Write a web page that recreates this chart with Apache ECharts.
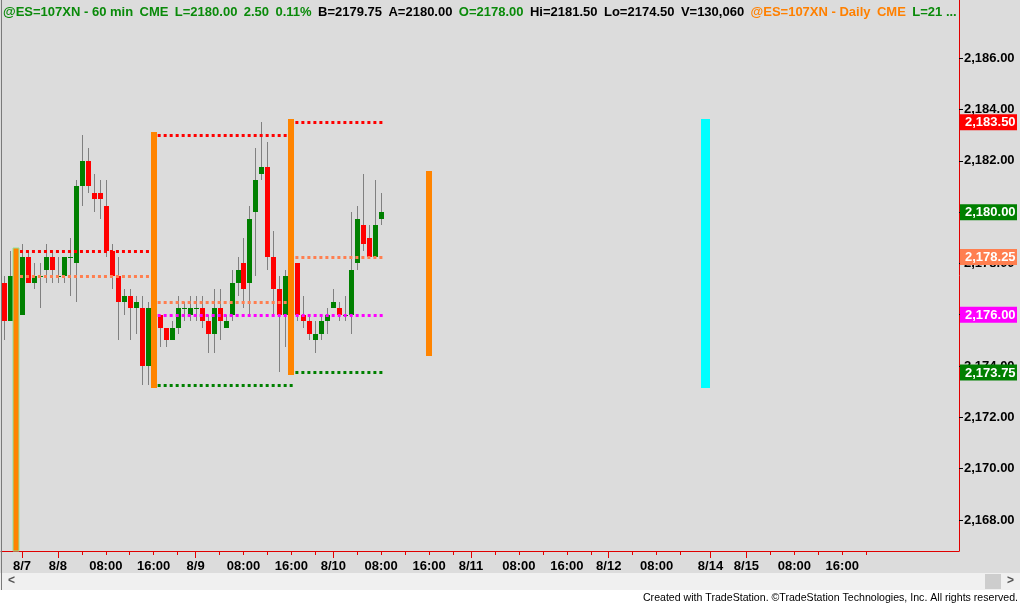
<!DOCTYPE html>
<html><head><meta charset="utf-8">
<script src="https://cdn.jsdelivr.net/npm/echarts@6/dist/echarts.min.js"></script>
<style>html,body{margin:0;padding:0;background:#dcdcdc;}#c{width:1020px;height:605px;}</style>
</head><body><div id="c"></div>
<script>
// ---------- DATA ----------
const sessionPairs = [['8/7','8/8'],['8/8','8/9'],['8/9','8/10'],['8/10','8/11'],['8/11','8/12'],['8/14','8/15'],['8/15','8/16']];
const preBars = ['8/5 14:00','8/5 15:00','8/5 16:00'];

const opens  = [2177.25,2175.75,2177.5,2176.0,2178.25,2177.25,2177.5,2177.75,2178.25,2177.5,2177.5,2178.25,2178.0,2181.0,2182.0,2180.75,2180.75,2180.25,2178.5,2177.5,2176.5,2176.75,2176.25,2176.25,2174.0,2176.25,2176.0,2175.5,2175.0,2175.5,2176.25,2176.0,2176.25,2176.25,2175.75,2175.25,2176.25,2175.5,2176.0,2177.25,2178.0,2177.25,2180.0,2181.5,2181.75,2178.25,2177.0,2176.0,2177.5,2178.0,2176.0,2175.75,2175.0,2175.25,2175.75,2176.25,2176.25,2176.0,2176.0,2178.0,2179.5,2179.0,2178.25,2179.75];
const highs  = [2177.5,2178.5,2178.5,2178.75,2178.5,2178.0,2178.0,2178.75,2178.5,2178.25,2178.25,2179.0,2181.25,2183.0,2182.5,2181.5,2181.25,2181.25,2178.75,2178.25,2177.0,2177.0,2176.75,2176.75,2176.5,2176.75,2176.0,2175.5,2175.75,2176.75,2176.5,2176.75,2176.75,2176.75,2176.0,2177.0,2177.0,2176.0,2177.75,2178.25,2179.0,2180.25,2182.5,2183.5,2182.75,2179.25,2177.5,2177.75,2178.5,2178.0,2176.75,2176.0,2175.75,2176.0,2176.25,2177.0,2176.5,2176.75,2180.0,2180.25,2181.5,2179.5,2181.25,2180.75];
const lows   = [2175.0,2175.75,2177.25,2176.0,2177.25,2177.0,2176.25,2177.25,2177.25,2177.25,2177.25,2176.75,2176.5,2180.25,2180.75,2180.0,2179.75,2178.25,2177.0,2175.0,2176.0,2175.0,2175.25,2173.25,2173.25,2175.75,2174.75,2174.75,2175.0,2175.25,2175.75,2175.75,2175.75,2175.5,2174.5,2174.5,2175.0,2175.5,2175.75,2176.75,2176.25,2176.0,2177.5,2181.25,2177.75,2176.0,2173.75,2174.75,2177.25,2175.75,2175.5,2175.0,2174.5,2175.0,2175.25,2176.25,2175.75,2175.75,2175.25,2177.75,2178.5,2178.25,2178.25,2179.5];
const closes = [2175.75,2177.5,2177.5,2178.25,2177.25,2177.5,2177.5,2178.25,2177.75,2177.5,2178.25,2178.25,2181.0,2182.0,2181.0,2180.5,2180.5,2178.5,2177.5,2176.5,2176.75,2176.25,2176.5,2174.0,2176.25,2176.5,2175.5,2175.0,2175.5,2176.25,2176.25,2176.25,2176.25,2175.75,2175.25,2176.25,2175.75,2175.75,2177.25,2177.75,2177.0,2179.75,2181.25,2181.75,2178.25,2177.0,2176.0,2177.5,2178.25,2176.0,2175.75,2175.25,2175.25,2175.75,2176.0,2176.5,2176.0,2176.0,2177.75,2179.75,2178.75,2178.25,2179.5,2180.0];

// prior-day levels per session (bar index ranges)
const levelStart = [3, 26, 49];
const levelEnd   = [25, 48, 63];
const prevHigh   = [2178.5, 2183.0, 2183.5];
const prevLow    = [null, 2173.25, 2173.75];
const prevClose  = [2177.5, 2176.5, 2178.25];
const pivotStart = [26];
const pivotEnd   = [63];
const pivotLevel = [2176.0];

// daily (data2) bars
const dailyIdx  = [2, 25, 48, 71];
const dailyHigh = [2178.5, 2183.0, 2183.5, 2181.5];
const dailyLow  = [2165.5, 2173.25, 2173.75, 2174.5];
const cyanIdx   = [117];
const cyanHigh  = [2183.5];
const cyanLow   = [2173.25];

// axis labels
const xLabelIdx  = [3,9,17,25,32,40,48,55,63,71,78,86,94,101,109,118,124,132,140];
const xLabelText = ['8/7','8/8','08:00','16:00','8/9','08:00','16:00','8/10','08:00','16:00','8/11','08:00','16:00','8/12','08:00','8/14','8/15','08:00','16:00'];
const majorTickIdx = [3,9,32,55,78,101,118,124];
const lastTickIdx = 144;
const yTickValues = [2168,2170,2172,2174,2176,2178,2180,2182,2184,2186];

const headerTokens = [
  ['@ES=107XN - 60 min','g'],['CME','g'],['L=2180.00','g'],['2.50','g'],['0.11%','g'],
  ['B=2179.75','k'],['A=2180.00','k'],['O=2178.00','g'],['Hi=2181.50','k'],['Lo=2174.50','k'],
  ['V=130,060','k'],['@ES=107XN - Daily','o'],['CME','o'],['L=21 ...','g']
];

// ---------- BUILD ----------
const categories = preBars.slice();
sessionPairs.forEach(([ev, day]) => {
  for (let h = 18; h <= 23; h++) categories.push(ev + ' ' + h + ':00');
  for (let h = 0; h <= 16; h++) categories.push(day + ' ' + String(h).padStart(2,'0') + ':00');
});
categories.length = 160;

const labelMap = {};
xLabelIdx.forEach((i, k) => labelMap[i] = xLabelText[k]);
const majorSet = new Set(majorTickIdx);
const minorSet = new Set();
majorTickIdx.forEach((m, k) => {
  const next = k + 1 < majorTickIdx.length ? majorTickIdx[k+1] : lastTickIdx + 3;
  for (let t = m + 4; next - t >= 3; t += 4) minorSet.add(t);
});

const GREEN = '#008000', RED = '#ff0000', WICK = '#808080', CORAL = '#ff7f50', MAGENTA = '#ff00ff', ORANGE = '#ff8400', CYAN = '#00ffff';
const FONT = '"Liberation Sans", Arial, sans-serif';
const HFONT = 'bold 13px ' + FONT;
const yMin = 2166.79, yMax = 2188.27;

const fmt = v => {
  const s = v.toFixed(2); const [a, b] = s.split('.');
  return a.replace(/\B(?=(\d{3})+(?!\d))/g, ',') + '.' + b;
};

const candleData = opens.map((o, i) => [i, o, highs[i], lows[i], closes[i]]);

function candleItem(params, api) {
  const i = api.value(0), o = api.value(1), h = api.value(2), l = api.value(3), c = api.value(4);
  const pO = api.coord([i, o]), pC = api.coord([i, c]), pH = api.coord([i, h]), pL = api.coord([i, l]);
  const cx = Math.round(pO[0]);
  const yTop = Math.round(Math.min(pO[1], pC[1])), yBot = Math.round(Math.max(pO[1], pC[1]));
  const color = c >= o ? GREEN : RED;
  return { type: 'group', children: [
    { type: 'line', shape: { x1: cx + 0.5, y1: Math.round(pH[1]), x2: cx + 0.5, y2: Math.round(pL[1]) }, style: { stroke: WICK, lineWidth: 1 } },
    { type: 'rect', shape: { x: cx - 2, y: yTop, width: 5, height: Math.max(1, yBot - yTop) }, style: { fill: color } }
  ]};
}

function levelSeries(starts, ends, vals, color) {
  const data = [];
  vals.forEach((v, k) => { if (v != null) data.push([starts[k], ends[k], v]); });
  return {
    type: 'custom', z: 3, data, silent: true,
    renderItem: (params, api) => {
      const a = api.coord([api.value(0), api.value(2)]);
      const b = api.coord([api.value(1), api.value(2)]);
      const y = Math.round(a[1]) + 0.5;
      return { type: 'line', shape: { x1: a[0] - 2, y1: y, x2: b[0] + 3, y2: y },
        style: { stroke: color, lineWidth: 3, lineDash: [3, 3], lineCap: 'butt' } };
    }
  };
}

function rangeSeries(idx, hi, lo, color, left, width, outline) {
  return {
    type: 'custom', z: 4, silent: true,
    data: idx.map((i, k) => [i, hi[k], lo[k]]),
    renderItem: (params, api) => {
      const a = api.coord([api.value(0), api.value(1)]);
      const b = api.coord([api.value(0), api.value(2)]);
      const cx = Math.round(a[0]);
      let shape = { x: cx - left, y: Math.round(a[1]) - 3, width: width, height: Math.round(b[1]) - Math.round(a[1]) + 6 };
      const cs = params.coordSys;
      shape = echarts.graphic.clipRectByRect(shape, { x: cs.x, y: cs.y, width: cs.width, height: cs.height });
      if (!shape) return;
      const st = { fill: color };
      if (outline && params.dataIndex === 0) { st.stroke = outline; st.lineWidth = 1; }
      return { type: 'rect', shape, style: st };
    }
  };
}

const lastSession = levelStart.length - 1;
const boxes = [
  [prevHigh[lastSession], 'r'],
  [closes[closes.length - 1], 'g'],
  [prevClose[lastSession], 'o'],
  [pivotLevel[pivotLevel.length - 1], 'm'],
  [prevLow[lastSession], 'g']
];
const boxKey = {};
boxes.forEach(([v, k]) => boxKey[v.toFixed(2)] = k);
const boxStyle = bg => ({ backgroundColor: bg, color: '#ffffff', fontSize: 13, fontWeight: 'bold', fontFamily: FONT, padding: [2, 4, 1, 5], width: 48, lineHeight: 13 });

const headerColors = { g: '#0a8a0a', k: '#000000', o: '#ff8000' };

const graphic = [
  { type: 'rect', z: 1, shape: { x: 0, y: 573, width: 1020, height: 17 }, style: { fill: '#f0f0f0' } },
  { type: 'rect', z: 1, shape: { x: 0, y: 590, width: 1020, height: 15 }, style: { fill: '#ffffff' } },
  { type: 'rect', z: 2, shape: { x: 985, y: 574, width: 16, height: 15 }, style: { fill: '#cdcdcd' } },
  { type: 'text', z: 2, x: 8, y: 581, style: { text: '<', fill: '#555', font: 'bold 12px ' + FONT, textVerticalAlign: 'middle', verticalAlign: 'middle' } },
  { type: 'text', z: 2, x: 1007, y: 581, style: { text: '>', fill: '#555', font: 'bold 12px ' + FONT, textVerticalAlign: 'middle', verticalAlign: 'middle' } },
  { type: 'line', z: 2, shape: { x1: 1.5, y1: 0, x2: 1.5, y2: 590 }, style: { stroke: '#7a7a7a', lineWidth: 1 } },
  { type: 'text', z: 2, x: 1018, y: 598, style: { text: 'Created with TradeStation. \u00a9TradeStation Technologies, Inc. All rights reserved.', fill: '#000', font: '10.6px ' + FONT, textAlign: 'right', align: 'right', textVerticalAlign: 'middle', verticalAlign: 'middle' } }
];
// header status line: tokens flowed left to right with a small gap
const mctx = document.createElement('canvas').getContext('2d');
mctx.font = HFONT;
const gap = mctx.measureText('  ').width - 0.8;
let hx = 3;
headerTokens.forEach(([t, c]) => {
  graphic.push({ type: 'text', z: 5, x: hx, y: 12, style: { text: t, fill: headerColors[c], font: HFONT, textVerticalAlign: 'middle', verticalAlign: 'middle' } });
  hx += mctx.measureText(t).width + gap;
});

const option = {
  animation: false,
  backgroundColor: '#dcdcdc',
  grid: { left: 1, top: 0, width: 960, height: 551, containLabel: false },
  xAxis: [
    { type: 'category', data: categories, boundaryGap: true, position: 'bottom',
      axisLine: { show: true, lineStyle: { color: '#e00000', width: 1 } },
      axisTick: { show: true, alignWithLabel: true, length: 7, interval: i => majorSet.has(i), lineStyle: { color: '#e00000' } },
      axisLabel: { show: true, interval: i => labelMap[i] !== undefined, formatter: (v, i) => labelMap[i] || '', color: '#000', fontSize: 13, fontWeight: 'bold', fontFamily: FONT, margin: 9 },
      splitLine: { show: false } },
    { type: 'category', data: categories, boundaryGap: true, position: 'bottom',
      axisLine: { show: false },
      axisTick: { show: true, alignWithLabel: true, length: 4, interval: i => minorSet.has(i), lineStyle: { color: '#e00000' } },
      axisLabel: { show: false }, splitLine: { show: false } }
  ],
  yAxis: [
    { type: 'value', position: 'right', min: yMin, max: yMax, scale: true,
      axisLine: { show: true, lineStyle: { color: '#e00000', width: 1 } },
      axisTick: { show: true, length: 4, customValues: yTickValues, lineStyle: { color: '#000' } },
      axisLabel: { show: true, customValues: yTickValues, formatter: v => fmt(v), color: '#000', fontSize: 13, fontWeight: 'bold', fontFamily: FONT, margin: 5 },
      splitLine: { show: false } },
    { type: 'value', position: 'right', min: yMin, max: yMax, scale: true, z: 10,
      axisLine: { show: false }, axisTick: { show: false }, splitLine: { show: false },
      axisLabel: { show: true, customValues: boxes.map(b => b[0]), margin: 1,
        formatter: v => '{' + (boxKey[v.toFixed(2)] || 'g') + '|' + fmt(v) + '}',
        rich: { r: boxStyle(RED), g: boxStyle(GREEN), o: boxStyle(CORAL), m: boxStyle(MAGENTA) } } }
  ],
  series: [
    { type: 'custom', z: 2, silent: true, data: candleData, renderItem: candleItem, encode: { x: 0, y: [1, 2, 3, 4] } },
    levelSeries(levelStart, levelEnd, prevHigh, RED),
    levelSeries(levelStart, levelEnd, prevLow, GREEN),
    levelSeries(levelStart, levelEnd, prevClose, CORAL),
    levelSeries(pivotStart, pivotEnd, pivotLevel, MAGENTA),
    rangeSeries(dailyIdx, dailyHigh, dailyLow, ORANGE, 3, 6, '#8fe39a'),
    rangeSeries(cyanIdx, cyanHigh, cyanLow, CYAN, 4, 9, null)
  ],
  graphic
};

const chart = echarts.init(document.getElementById('c'), null, { renderer: 'canvas' });
chart.setOption(option);
</script></body></html>
